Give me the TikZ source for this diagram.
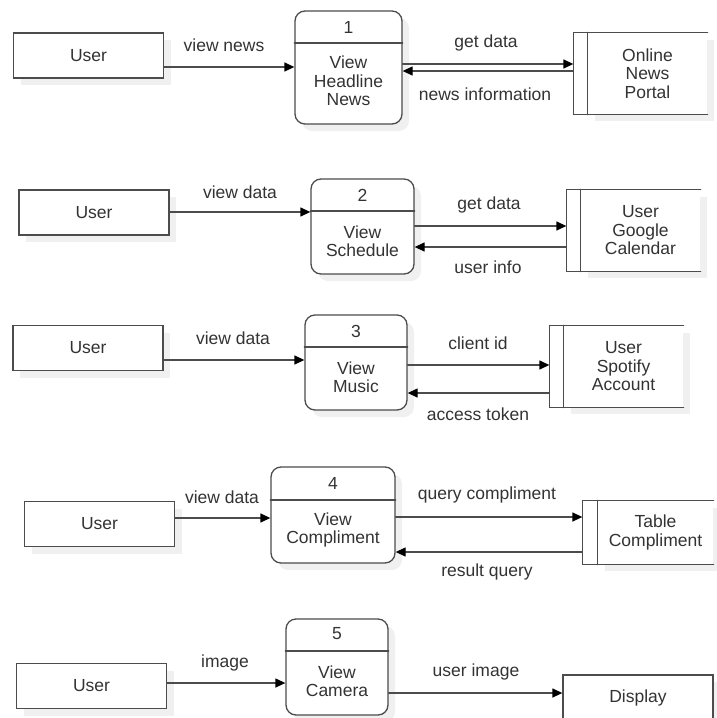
\documentclass[tikz,border=0pt]{standalone}
\usepackage{fontspec}
\setmainfont{Liberation Sans}
\usetikzlibrary{arrows.meta,shadows}
\begin{document}
\begin{tikzpicture}[x=1pt,y=-1pt,line cap=round,font=\fontsize{17.5}{18.5}\selectfont,
 every node/.style={text=black!80},
 box/.style={draw=black!70,fill=white,line width=1.3pt,inner sep=0pt,drop shadow={shadow xshift=7pt,shadow yshift=-7pt,fill=black!6,opacity=1}},
 ent/.style={box,minimum width=150pt,minimum height=45pt},
 proc/.style={box,rounded corners=10pt},
 store/.style={box,draw=none,align=center},
 edge/.style={draw=black!70,line width=1.3pt},
 flow/.style={edge,-{Triangle[length=10pt,width=9pt,fill=black,color=black]}}]
\useasboundingbox (0,0) rectangle (717,718);
% 1 headline news
\node[ent](U1)at(88.5,55.5){User}; \node[proc,minimum width=107pt,minimum height=113pt](P1)at(348.5,67.5){};
\node(N1)at(P1.center|-0,27){1}; \draw[edge](P1.west|-0,43)--(P1.east|-0,43); \node[align=center](T1)at(P1.center|-0,81){View\\Headline\\News};
\node[store,minimum width=119pt,minimum height=81pt](S1)at(647.5,73.5){Online\\News\\Portal}; \coordinate(S1w)at([xshift=-14pt]S1.west);
\draw[edge](S1.north east)--(S1w|-S1.north)--(S1w|-S1.south)--(S1.south east) (S1.north west)--(S1.south west);
\draw[flow](U1.east|-0,67)--(P1.west|-0,67); \draw[flow](P1.east|-0,64)--(S1w|-0,64); \draw[flow](S1w|-0,71)--(P1.east|-0,71);
\node(L1a)at(224,45){view news}; \node(L1b)at(486,43){get data}; \node(L1c)at(485,94){news information};
% 2 schedule
\node[ent](U2)at(94,212.5){User}; \node[proc,minimum width=103pt,minimum height=95pt](P2)at(362.5,226.5){};
\node(N2)at(P2.center|-0,195){2}; \draw[edge](P2.west|-0,211)--(P2.east|-0,211); \node[align=center](T2)at(P2.center|-0,241){View\\Schedule};
\node[store,minimum width=119pt,minimum height=81pt](S2)at(640.5,230.5){User\\Google\\Calendar}; \coordinate(S2w)at([xshift=-14pt]S2.west);
\draw[edge](S2.north east)--(S2w|-S2.north)--(S2w|-S2.south)--(S2.south east) (S2.north west)--(S2.south west);
\draw[flow](U2.east|-0,212)--(P2.west|-0,212); \draw[flow](P2.east|-0,226)--(S2w|-0,226); \draw[flow](S2w|-0,247)--(P2.east|-0,247);
\node(L2a)at(240,192){view data}; \node(L2b)at(489,205){get data}; \node(L2c)at(488,267){user info};
% 3 music
\node[ent](U3)at(88,348){User}; \node[proc,minimum width=102pt,minimum height=95pt](P3)at(356,362.5){};
\node(N3)at(P3.center|-0,331){3}; \draw[edge](P3.west|-0,347)--(P3.east|-0,347); \node[align=center](T3)at(P3.center|-0,377){View\\Music};
\node[store,minimum width=119pt,minimum height=81pt](S3)at(623.5,366.5){User\\Spotify\\Account}; \coordinate(S3w)at([xshift=-14pt]S3.west);
\draw[edge](S3.north east)--(S3w|-S3.north)--(S3w|-S3.south)--(S3.south east) (S3.north west)--(S3.south west);
\draw[flow](U3.east|-0,360)--(P3.west|-0,360); \draw[flow](P3.east|-0,365)--(S3w|-0,365); \draw[flow](S3w|-0,393)--(P3.east|-0,393);
\node(L3a)at(233,338){view data}; \node(L3b)at(478,343){client id}; \node(L3c)at(478,414){access token};
% 4 compliment
\node[ent](U4)at(99.5,524){User}; \node[proc,minimum width=124pt,minimum height=96pt](P4)at(333,515){};
\node(N4)at(P4.center|-0,483){4}; \draw[edge](P4.west|-0,500)--(P4.east|-0,500); \node[align=center](T4)at(P4.center|-0,530){View\\Compliment};
\node[store,minimum width=115pt,minimum height=63pt](S4)at(655.5,532.5){Table\\Compliment}; \coordinate(S4w)at([xshift=-15pt]S4.west);
\draw[edge](S4.north east)--(S4w|-S4.north)--(S4w|-S4.south)--(S4.south east) (S4.north west)--(S4.south west);
\draw[flow](U4.east|-0,518)--(P4.west|-0,518); \draw[flow](P4.east|-0,517)--(S4w|-0,517); \draw[flow](S4w|-0,552)--(P4.east|-0,552);
\node(L4a)at(222,497){view data}; \node(L4b)at(487,495){query compliment}; \node(L4c)at(487,572){result query};
% 5 camera
\node[ent](U5)at(91.5,686){User}; \node[proc,minimum width=102pt,minimum height=96pt](P5)at(337,667){};
\node(N5)at(P5.center|-0,634){5}; \draw[edge](P5.west|-0,651)--(P5.east|-0,651); \node[align=center](T5)at(P5.center|-0,681){View\\Camera};
\node[ent](D5)at(638,697.5){Display};
\draw[flow](U5.east|-0,683)--(P5.west|-0,683); \draw[flow](P5.east|-0,693)--(D5.west|-0,693);
\node(L5a)at(225,663){image}; \node(L5b)at(476,672){user image};
\end{tikzpicture}
\end{document}
